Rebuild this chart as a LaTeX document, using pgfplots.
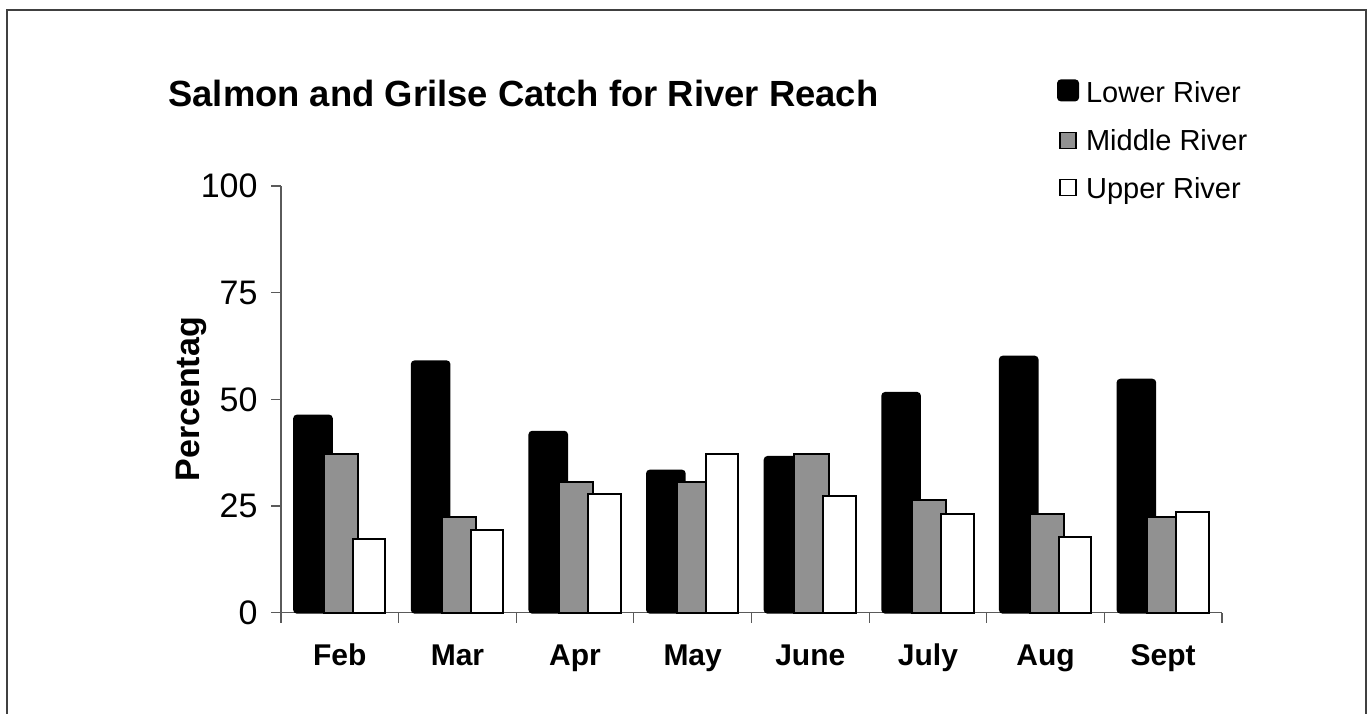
\documentclass[border=0pt]{standalone}
\usepackage{pgfplots}
\pgfplotsset{compat=1.18}
\usepackage{fontspec}
\setmainfont{Liberation Sans}
\definecolor{midgray}{RGB}{145,145,145}
\definecolor{axgray}{RGB}{90,90,90}
\begin{document}
\begin{tikzpicture}[x=1pt,y=1pt]
\useasboundingbox (0,0) rectangle (685.5,356.5);
\draw[line width=1pt, black!75] (3.35,-5) -- (3.35,351.5) -- (683,351.5) -- (683,-5);
\node[anchor=base west, font=\bfseries\fontsize{18.2}{21}\selectfont, inner sep=0pt] at (84,303.15) {Salmon and Grilse Catch for River Reach};
\begin{axis}[
  at={(140.5pt,50.15pt)}, anchor=south west,
  scale only axis, width=470.5pt, height=213.35pt,
  xmin=-0.5, xmax=7.5, ymin=0, ymax=100,
  axis lines*=left,
  axis line style={axgray, line width=0.6pt},
  ytick={0,25,50,75,100},
  xtick={0,...,7},
  xticklabels={Feb,Mar,Apr,May,June,July,Aug,Sept},
  minor xtick={-0.5,0.5,...,7.5},
  tick align=outside,
  major tick length=5pt, minor tick length=5pt,
  major x tick style={draw=none},
  minor x tick style={axgray, line width=0.6pt},
  major y tick style={axgray, line width=0.6pt},
  /pgf/number format/assume math mode=true,
  yticklabel style={font=\fontsize{17}{17}\selectfont, xshift=-3.2pt},
  xticklabel style={font=\bfseries\fontsize{15}{15}\selectfont, yshift=-7pt, text height=11pt, text depth=3pt},
  ylabel={Percentag},
  ylabel style={at={(axis description cs:-0.0861,0.5)}, anchor=base, rotate=0, font=\bfseries\fontsize{17}{17}\selectfont},
  legend style={at={(axis description cs:0.8243,1.2555)}, anchor=north west, draw=none, fill=none, inner sep=0pt, font=\fontsize{14.5}{17}\selectfont, row sep=8pt, cells={anchor=west}, /tikz/every odd column/.append style={column sep=1.5pt}},
  clip=false,
]
\addplot[ybar, bar width=0.32, bar shift=-0.228, fill=black, draw=black, line width=1pt, rounded corners=1.5pt,
  legend image code/.code={\draw[fill=black, draw=black, line width=1pt, rounded corners=1.5pt] (0pt,-3.5pt) rectangle (10pt,6.5pt);}]
  coordinates {(0,46.2) (1,58.9) (2,42.4) (3,33.3) (4,36.5) (5,51.5) (6,60.0) (7,54.6)};
\addlegendentry{Lower River}
\addplot[ybar, bar width=0.29, bar shift=0.01, fill=midgray, draw=black, line width=1pt,
  legend image code/.code={\draw[fill=midgray, draw=black, line width=0.8pt] (1pt,-3.6pt) rectangle (9pt,4.4pt);}]
  coordinates {(0,37.1) (1,22.5) (2,30.6) (3,30.6) (4,37.1) (5,26.3) (6,23.2) (7,22.5)};
\addlegendentry{Middle River}
\addplot[ybar, bar width=0.276, bar shift=0.25, fill=white, draw=black, line width=1pt,
  legend image code/.code={\draw[fill=white, draw=black, line width=0.8pt] (1pt,-3.1pt) rectangle (9pt,4.9pt);}]
  coordinates {(0,17.2) (1,19.4) (2,27.9) (3,37.1) (4,27.3) (5,23.2) (6,17.8) (7,23.7)};
\addlegendentry{Upper River}
\end{axis}
\end{tikzpicture}
\end{document}
